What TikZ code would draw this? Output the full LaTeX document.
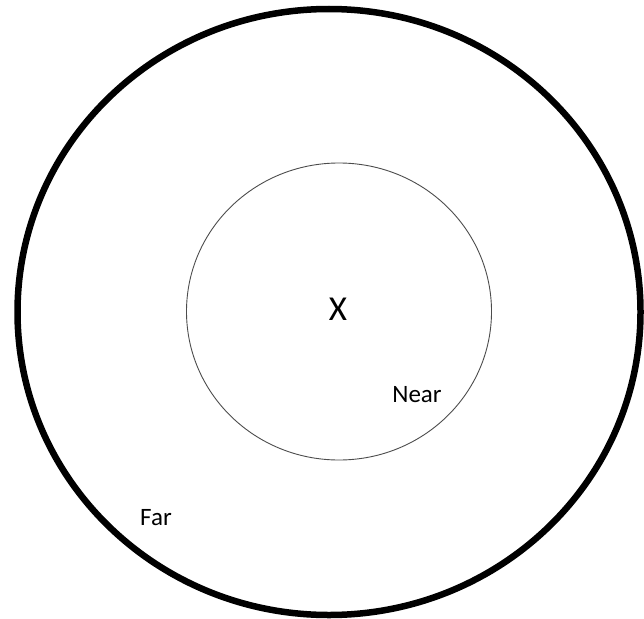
\documentclass[tikz,border=0pt]{standalone}
\usepackage{fontspec}
\setmainfont{Carlito}
\usetikzlibrary{positioning}

\tikzset{
  ring/.style={draw=black,line width=6.5pt},
  zone/.style={draw=black!70,line width=0.9pt},
  lbl/.style={font=\fontsize{25}{30}\selectfont,inner sep=0pt},
  ctr/.style={font=\fontsize{35}{42}\selectfont,inner sep=0pt}
}

\begin{document}
\begin{tikzpicture}[x=1pt,y=-1pt]
\useasboundingbox (0,0) rectangle (644,618);
% outer and inner rings
\draw[ring] (329,312) ellipse [x radius=311.5,y radius=303];
\draw[zone] (339,311.5) ellipse [x radius=152.5,y radius=148.5];
% labels
\node[ctr] (x) at (338,309) {X};
\node[lbl] (near) at (417,395) {Near};
\node[lbl] (far) at (156,518) {Far};
\end{tikzpicture}
\end{document}
